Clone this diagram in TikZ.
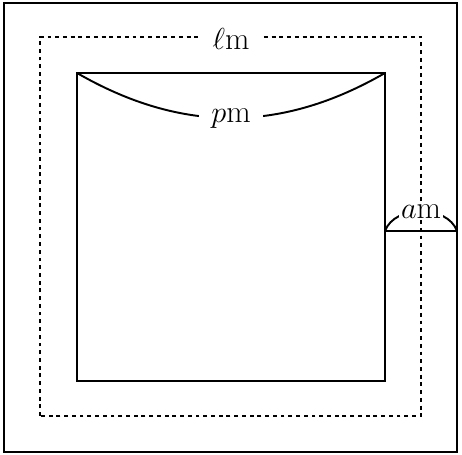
\documentclass[tikz,border=0pt]{standalone}
\usepackage{amsmath,amssymb}
\usepackage{tikz}

\begin{document}
\begin{tikzpicture}[x=0.02cm,y=0.02cm,line width=1.1pt,
    lbl/.style={fill=white,inner xsep=6pt,inner ysep=2pt,font=\fontsize{18}{21}\selectfont}]
    \useasboundingbox (0,0) rectangle (462,455);
    \draw (4,3) rectangle (457,452);
    \draw [dash pattern=on 2.2pt off 2.2pt] (40,39) rectangle (421,418);
    \draw (77,74) rectangle (385,382);
    \node [lbl] (lm) at (231,416) {$\ell$m};
    \coordinate (tl) at (77,382);
    \coordinate (tr) at (385,382);
    \coordinate (ri) at (385,224);
    \coordinate (ro) at (457,224);
    \draw (ri) -- (ro);
    \draw (tl) to [bend right=30] node [lbl,inner xsep=7pt] (pm) {$p$m} (tr);
    \draw (ri) to [bend left=70] node [lbl,inner sep=1pt] (am) {$a$m} (ro);
  \end{tikzpicture}
\end{document}
